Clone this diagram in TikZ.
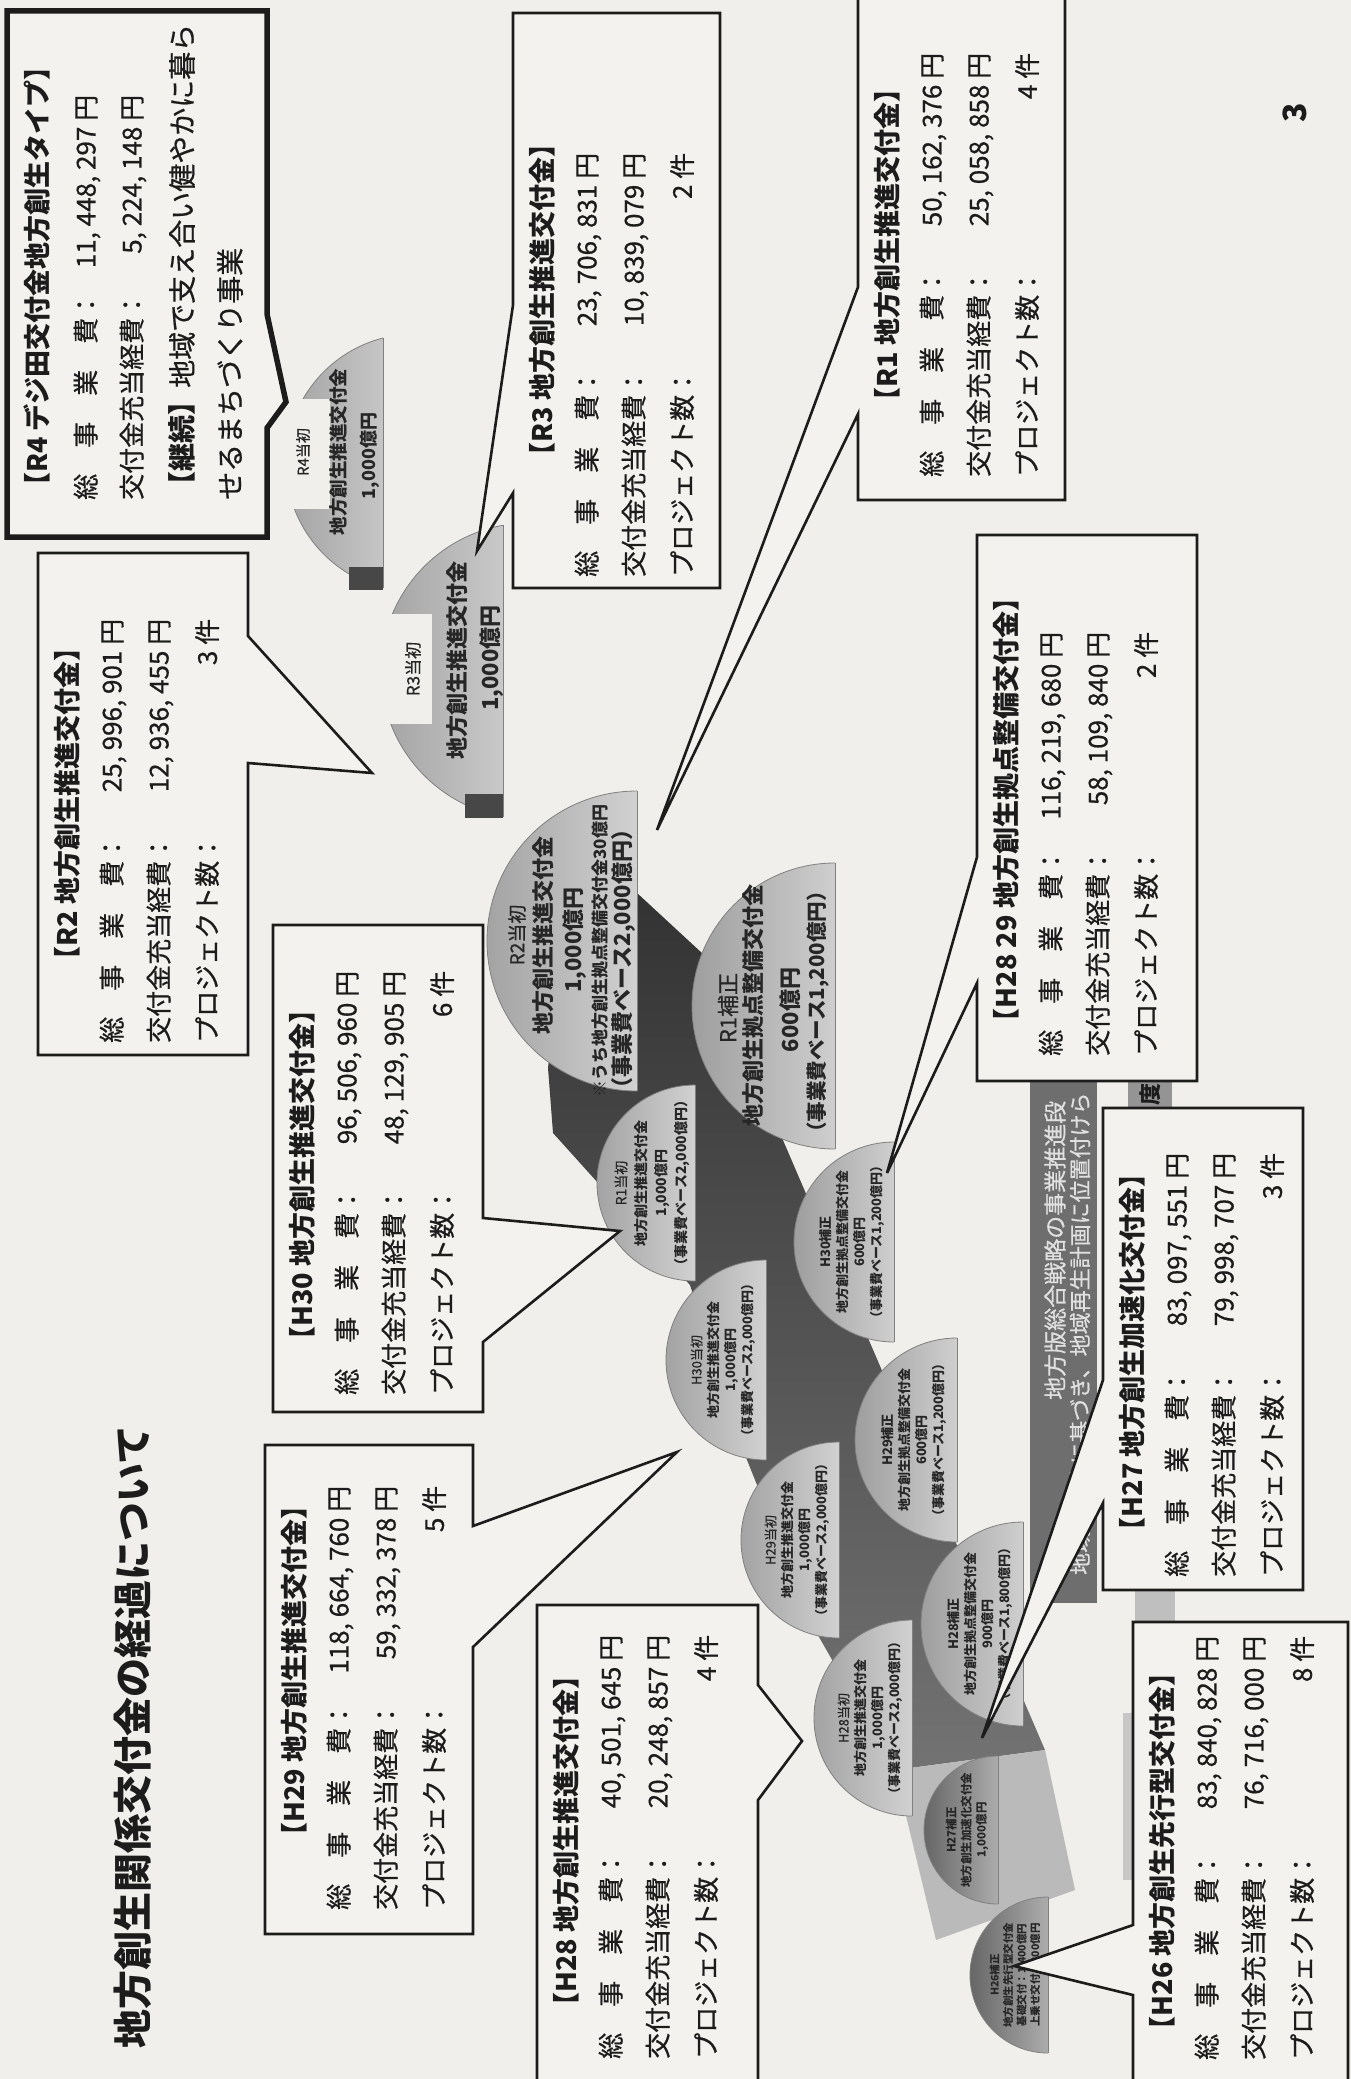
\documentclass[tikz,border=0pt]{standalone}
\usepackage{fontspec}
\setmainfont{Noto Sans CJK JP}[UprightFeatures={FakeBold=0.6}]
\definecolor{paper}{HTML}{F0EFEB}
\definecolor{boxfill}{HTML}{F3F2EE}
\definecolor{ink}{HTML}{1C1C1C}
\definecolor{stripc}{HTML}{6E6E6E}
\newlength{\bw}
\setlength{\bw}{424pt}
\newcommand{\bodyfont}{\fontsize{26}{30}\selectfont}
\newcommand{\titlefont}{\fontsize{27}{30}\selectfont\bfseries}
\newcommand{\sjh}{\makebox[7em][s]{総\hfill 事\hfill 業\hfill 費}：}
\newcommand{\kjh}{交付金充当経費：}
\newcommand{\pjs}{プロジェクト数：}
\newcommand{\infotext}[8]{%
  \node[ttl] (#1t) at (#2+29,#3) {#5};
  \node[bodyl] (#1a) at (#2+75,#4) {\hbox to\bw{\sjh\hfill #6 円}};
  \node[bodyl] (#1b) at (#2+122,#4) {\hbox to\bw{\kjh\hfill #7 円}};
  \node[bodyl] (#1c) at (#2+169,#4) {\hbox to\bw{\pjs\hfill #8 件}};}
\newcommand{\dome}[6]{%
  \begin{scope}
    \clip (#1-320,#2-320) rectangle (#1,#2+320);
    \shade[left color=#5, right color=#6] (#1+#4,#2) circle (#3pt);
    \draw[domeline] (#1+#4,#2) circle (#3pt);
  \end{scope}
  \draw[domeline] (#1,{#2-10*sqrt((#3/10)^2-(#4/10)^2)}) -- (#1,{#2+10*sqrt((#3/10)^2-(#4/10)^2)});}
\tikzset{
  boxline/.style={draw=ink, line width=2.6pt, fill=boxfill, line join=miter},
  thickbox/.style={draw=ink, line width=5.5pt, fill=boxfill, line join=miter},
  ttl/.style={rotate=90, anchor=center, inner sep=0pt, text=ink, font=\titlefont},
  bodyl/.style={rotate=90, anchor=west, inner sep=0pt, text=ink, font=\bodyfont},
  domet/.style={rotate=90, anchor=center, inner sep=0pt, text=black!85, align=center},
  dl/.style={rotate=90, anchor=center, inner sep=0pt, text=black!85},
  domeline/.style={draw=black!50, line width=0.8pt},
}
\begin{document}
\begin{tikzpicture}[x=1pt,y=-1pt]
\useasboundingbox (0,0) rectangle (1351,2079);
\clip (0,0) rectangle (1351,2079);
\fill[paper] (0,0) rectangle (1351,2079);

% background band
\shade[top color=black!80, bottom color=black!55]
  (548,1068) -- (560,960) -- (637,893) -- (703,954) -- (1045,1750) -- (895,1770)
  -- (815,1630) -- (745,1455) -- (690,1285) -- (553,1133) -- cycle;
\fill[black!27] (895,1770) -- (1045,1750) -- (1075,1890) -- (936,1940) -- cycle;

% vertical strip and hidden pieces
\fill[stripc] (1030,1070) rectangle (1097,1603);
\node[bodyl, font=\fontsize{23}{25}\selectfont, text=white!88!black] (s1) at (1055,1400) {地方版総合戦略の事業推進段};
\node[bodyl, font=\fontsize{22}{25}\selectfont, text=white!88!black] (s2) at (1080,1575) {地域再生法に基づき、地域再生計画に位置付けら};
\fill[black!42] (1128,1074) rectangle (1172,1110);
\node[rotate=90, font=\fontsize{22}{24}\selectfont\bfseries, text=ink, inner sep=0pt] (s3) at (1150,1094) {度};
\fill[black!25] (1135,1588) rectangle (1175,1624);
\fill[black!22] (1123,1713) rectangle (1134,1880);

% domes
\dome{383}{463}{129}{32}{black!36}{white}
\fill[paper] (270,399) rectangle (330,509);
\fill[black!72] (349,567) rectangle (383,590);
\dome{503}{671}{148}{26}{black!36}{white}
\fill[paper] (370,614) rectangle (432,724);
\fill[black!72] (465,794) rectangle (503,818);
\dome{637}{941}{150}{0}{black!36}{white}
\dome{835}{1006}{143}{0}{black!38}{white}
\dome{695}{1183}{98}{0}{black!36}{white}
\dome{894}{1242}{100}{0}{black!38}{white}
\dome{766}{1360}{100}{0}{black!36}{white}
\dome{957}{1440}{102}{0}{black!38}{white}
\dome{839}{1540}{98}{0}{black!36}{white}
\dome{1023}{1624}{102}{0}{black!38}{white}
\dome{912}{1718}{98}{0}{black!36}{white}
\dome{998}{1830}{74}{0}{black!60}{black!5}
\dome{1048}{1975}{78}{0}{black!60}{black!5}

% dome texts
\node[dl, font=\fontsize{15}{17}\selectfont] (dr4a) at (303,452) {R4当初};
\node[dl, font=\fontsize{18.5}{20}\selectfont\bfseries] (dr4b) at (338,452) {地方創生推進交付金};
\node[dl, font=\fontsize{18}{20}\selectfont\bfseries] (dr4c) at (370,456) {1,000億円};
\node[dl, font=\fontsize{17}{19}\selectfont] (dr3a) at (413,669) {R3当初};
\node[dl, font=\fontsize{22}{24}\selectfont\bfseries] (dr3b) at (457,660) {地方創生推進交付金};
\node[dl, font=\fontsize{22}{24}\selectfont\bfseries] (dr3c) at (492,658) {1,000億円};
\node[dl, font=\fontsize{19}{21}\selectfont] (dr2a) at (517,935) {R2当初};
\node[dl, font=\fontsize{22}{24}\selectfont\bfseries] (dr2b) at (543,935) {地方創生推進交付金};
\node[dl, font=\fontsize{22}{24}\selectfont\bfseries] (dr2c) at (575,940) {1,000億円};
\node[dl, font=\fontsize{17}{19}\selectfont\bfseries] (dr2d) at (600,951) {※うち地方創生拠点整備交付金30億円};
\node[dl, font=\fontsize{22}{24}\selectfont\bfseries] (dr2e) at (623,959) {（事業費ベース2,000億円）};
\node[dl, font=\fontsize{22}{24}\selectfont] (dr1ha) at (728,1008) {R1補正};
\node[dl, font=\fontsize{22}{24}\selectfont\bfseries] (dr1hb) at (753,1005) {地方創生拠点整備交付金};
\node[dl, font=\fontsize{22}{24}\selectfont\bfseries] (dr1hc) at (790,1010) {600億円};
\node[dl, font=\fontsize{20.5}{22}\selectfont\bfseries] (dr1hd) at (818,1012) {（事業費ベース1,200億円）};
\node[domet, font=\fontsize{14}{20}\selectfont] (dr1t) at (652,1183) {R1当初\\{\bfseries 地方創生推進交付金}\\{\bfseries 1,000億円}\\{\bfseries （事業費ベース2,000億円）}};
\node[domet, font=\fontsize{13}{17}\selectfont] (dh30h) at (852,1242) {{\bfseries H30補正}\\{\bfseries 地方創生拠点整備交付金}\\{\bfseries 600億円}\\{\bfseries （事業費ベース1,200億円）}};
\node[domet, font=\fontsize{13}{17}\selectfont] (dh30t) at (723,1360) {H30当初\\{\bfseries 地方創生推進交付金}\\{\bfseries 1,000億円}\\{\bfseries （事業費ベース2,000億円）}};
\node[domet, font=\fontsize{13}{17}\selectfont] (dh29h) at (914,1440) {{\bfseries H29補正}\\{\bfseries 地方創生拠点整備交付金}\\{\bfseries 600億円}\\{\bfseries （事業費ベース1,200億円）}};
\node[domet, font=\fontsize{13}{17}\selectfont] (dh29t) at (797,1540) {H29当初\\{\bfseries 地方創生推進交付金}\\{\bfseries 1,000億円}\\{\bfseries （事業費ベース2,000億円）}};
\node[domet, font=\fontsize{13}{17}\selectfont] (dh28h) at (980,1624) {{\bfseries H28補正}\\{\bfseries 地方創生拠点整備交付金}\\{\bfseries 900億円}\\{\bfseries （事業費ベース1,800億円）}};
\node[domet, font=\fontsize{13}{17}\selectfont] (dh28t) at (870,1718) {H28当初\\{\bfseries 地方創生推進交付金}\\{\bfseries 1,000億円}\\{\bfseries （事業費ベース2,000億円）}};
\node[domet, font=\fontsize{11.5}{15}\selectfont\bfseries] (dh27) at (967,1830) {H27補正\\地方創生加速化交付金\\1,000億円};
\node[domet, font=\fontsize{10.5}{13.5}\selectfont\bfseries] (dh26) at (1015,1975) {H26補正\\地方創生先行型交付金\\基礎交付：1,400億円\\上乗せ交付：300億円};

% title and page number
\node[rotate=90, font=\fontsize{39}{42}\selectfont\bfseries, text=ink, inner sep=0pt] (title) at (133,1737) {地方創生関係交付金の経過について};
\node[rotate=90, font=\fontsize{32}{32}\selectfont\bfseries, text=ink, inner sep=0pt] (pg) at (1295,113) {3};

% callout boxes
\draw[thickbox] (7,11) -- (267,11) -- (267,314) -- (286,402) -- (267,428) -- (267,537) -- (7,537) -- cycle;
\draw[boxline] (38,553) -- (248,553) -- (248,636) -- (372,773) -- (248,763) -- (248,1055) -- (38,1055) -- cycle;
\draw[boxline] (513,13) -- (720,13) -- (720,588) -- (513,588) -- (513,493) -- (477,551) -- (513,305) -- cycle;
\draw[boxline] (858,-20) -- (1065,-20) -- (1065,500) -- (858,500) -- (858,414) -- (657,830) -- (858,287) -- cycle;
\draw[boxline] (977,535) -- (1197,535) -- (1197,1081) -- (977,1081) -- (977,983) -- (887,1173) -- (977,857) -- cycle;
\draw[boxline] (273,925) -- (483,925) -- (483,1218) -- (620,1231) -- (483,1342) -- (483,1412) -- (273,1412) -- cycle;
\draw[boxline] (265,1445) -- (473,1445) -- (473,1526) -- (677,1452) -- (473,1647) -- (473,1934) -- (265,1934) -- cycle;
\draw[boxline] (537,1605) -- (758,1605) -- (758,1685) -- (802,1741) -- (758,1800) -- (758,2100) -- (537,2100) -- cycle;
\draw[boxline] (1103,1108) -- (1303,1108) -- (1303,1590) -- (1103,1590) -- (1103,1503) -- (982,1738) -- (1103,1380) -- cycle;
\draw[boxline] (1133,1622) -- (1348,1622) -- (1348,2100) -- (1133,2100) -- (1133,1995) -- (1014,1966) -- (1133,1925) -- cycle;

% R4 box text
\node[bodyl, font=\titlefont] (r4t) at (37,500) {【R4 デジ田交付金地方創生タイプ】};
\node[bodyl] (r4a) at (87,500) {\hbox to 405pt{\sjh\hfill 11, 448, 297 円}};
\node[bodyl] (r4b) at (133,500) {\hbox to 405pt{\kjh\hfill 5, 224, 148 円}};
\node[bodyl, font=\fontsize{28}{30}\selectfont] (r4c) at (182,500) {{\bfseries 【継続】}地域で支え合い健やかに暮ら};
\node[bodyl, font=\fontsize{28}{30}\selectfont] (r4d) at (230,500) {せるまちづくり事業};

\infotext{r2}{38}{804}{1043}{【R2 地方創生推進交付金】}{25, 996, 901}{12, 936, 455}{3}
\infotext{r3}{513}{300}{577}{【R3 地方創生推進交付金】}{23, 706, 831}{10, 839, 079}{2}
\infotext{r1}{858}{245}{477}{【R1 地方創生推進交付金】}{50, 162, 376}{25, 058, 858}{4}
\infotext{hb}{977}{810}{1056}{【H28 29 地方創生拠点整備交付金】}{116, 219, 680}{58, 109, 840}{2}
\infotext{h30}{273}{1175}{1395}{【H30 地方創生推進交付金】}{96, 506, 960}{48, 129, 905}{6}
\infotext{h29}{265}{1671}{1910}{【H29 地方創生推進交付金】}{118, 664, 760}{59, 332, 378}{5}
\infotext{h28}{537}{1841}{2059}{【H28 地方創生推進交付金】}{40, 501, 645}{20, 248, 857}{4}
\infotext{h27}{1103}{1352}{1577}{【H27 地方創生加速化交付金】}{83, 097, 551}{79, 998, 707}{3}
\infotext{h26}{1133}{1851}{2060}{【H26 地方創生先行型交付金】}{83, 840, 828}{76, 716, 000}{8}
\end{tikzpicture}
\end{document}
